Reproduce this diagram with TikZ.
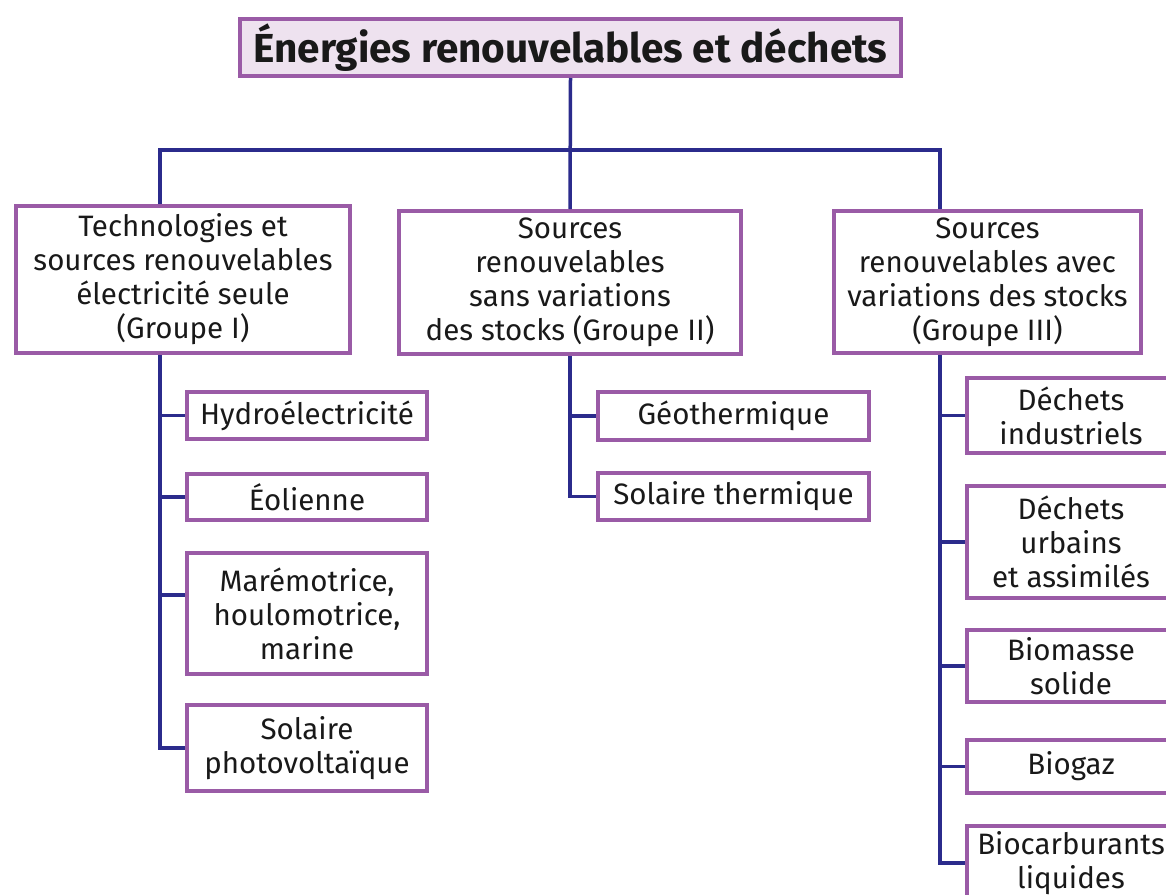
\documentclass[tikz,border=0pt]{standalone}
\usepackage{fontspec}
\setmainfont{Fira Sans}
\definecolor{boxpurple}{HTML}{9A5BA6}
\definecolor{titlefill}{HTML}{EEE2EF}
\definecolor{connblue}{HTML}{2B2B8C}
\begin{document}
\begin{tikzpicture}[x=1pt,y=-1pt,
  box/.style={draw=boxpurple, line width=4pt, fill=white, rectangle, align=center, inner sep=0pt,
    font=\fontsize{29.5}{34}\selectfont, text=black!90},
  conn/.style={draw=connblue, line width=3.5pt}]
\clip (0,0) rectangle (1166,894);
\fill[white] (0,0) rectangle (1166,894);
% title
\node[box, fill=titlefill, minimum width=661pt, minimum height=57pt, font=\fontsize{40.5}{44}\selectfont\bfseries] (title) at (570.5,47.5) {Énergies renouvelables et déchets};
% groups
\node[box, minimum width=334pt, minimum height=147pt] (g1) at (183,279.5) {Technologies et\\sources renouvelables\\électricité seule\\(Groupe I)};
\node[box, minimum width=342pt, minimum height=143pt] (g2) at (570,282.5) {Sources\\renouvelables\\sans variations\\des stocks (Groupe II)};
\node[box, minimum width=307pt, minimum height=142pt] (g3) at (987.5,282) {Sources\\renouvelables avec\\variations des stocks\\(Groupe III)};
% group I children
\node[box, minimum width=240pt, minimum height=47pt] (hydro) at (307,415.5) {Hydroélectricité};
\node[box, minimum width=240pt, minimum height=46pt] (eol) at (307,497) {Éolienne};
\node[box, minimum width=240pt, minimum height=121pt] (mar) at (307,613.5) {Marémotrice,\\houlomotrice,\\marine};
\node[box, minimum width=240pt, minimum height=86pt] (pv) at (307,748) {Solaire\\photovoltaïque};
% group II children
\node[box, minimum width=271pt, minimum height=48pt] (geo) at (733.5,416) {Géothermique};
\node[box, minimum width=271pt, minimum height=47pt] (solth) at (733.5,496.5) {Solaire thermique};
% group III children
\node[box, minimum width=208pt, minimum height=75pt] (dind) at (1071,415.5) {Déchets\\industriels};
\node[box, minimum width=208pt, minimum height=112pt] (durb) at (1071,542) {Déchets\\urbains\\et assimilés};
\node[box, minimum width=208pt, minimum height=72pt] (biom) at (1071,666) {Biomasse\\solide};
\node[box, minimum width=208pt, minimum height=53pt] (biog) at (1071,766.5) {Biogaz};
\node[box, minimum width=208pt, minimum height=74pt] (bioc) at (1071,863) {Biocarburants\\liquides};
% connectors
\coordinate (c1) at (160,150);
\coordinate (c3) at (940,150);
\draw[conn] (title.south) -- (g2.north);
\draw[conn] (c1 |- g1.north) -- (c1) -- (c3) -- (c3 |- g3.north);
% group I
\draw[conn] (c1 |- g1.south) |- (pv.west);
\draw[conn] (c1 |- hydro.west) -- (hydro.west);
\draw[conn] (c1 |- eol.west) -- (eol.west);
\draw[conn] ([yshift=18.5pt]mar.west -| c1) -- ([yshift=18.5pt]mar.west);
% group II
\draw[conn] (g2.south) |- (solth.west);
\draw[conn] (g2.south |- geo.west) -- (geo.west);
% group III
\draw[conn] (c3 |- g3.south) |- (bioc.west);
\draw[conn] (c3 |- dind.west) -- (dind.west);
\draw[conn] (c3 |- durb.west) -- (durb.west);
\draw[conn] (c3 |- biom.west) -- (biom.west);
\draw[conn] (c3 |- biog.west) -- (biog.west);
\end{tikzpicture}
\end{document}
